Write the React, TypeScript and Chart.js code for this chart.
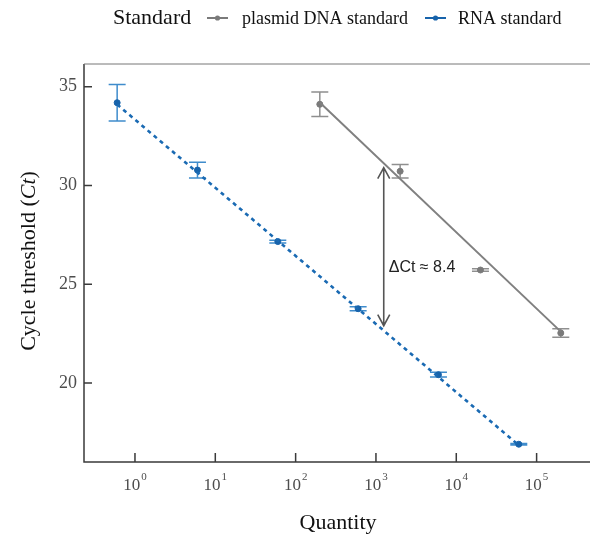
import { useEffect, useRef } from 'react';
import { Chart, registerables } from 'chart.js';

Chart.register(...registerables);

// ---- data ----
const rnaQty = [0.6, 6, 60, 600, 6000, 60000];
const rnaCt = [34.19, 30.78, 27.16, 23.76, 20.42, 16.9];
const rnaErr = [0.92, 0.4, 0.07, 0.1, 0.12, 0.04];

const dnaQty = [200, 2000, 20000, 200000];
const dnaCt = [34.11, 30.72, 25.72, 22.53];
const dnaErr = [0.62, 0.34, 0.06, 0.22];

const rnaFitQty = [0.6, 60000];
const rnaFitCt = [34.1, 16.85];
const dnaFitQty = [200, 200000];
const dnaFitCt = [34.2, 22.6];

const deltaQty = 1250;
const deltaTopCt = 30.9;
const deltaBottomCt = 22.9;
const deltaLabel = 'ΔCt ≈ 8.4';
const deltaLabelCt = 25.86;

const yTicks = [20, 25, 30, 35];
const xTickExps = [0, 1, 2, 3, 4, 5];
const xMin = 0.232;
const xMax = 462000;
const yMin = 16.0;
const yMax = 36.15;

const legendTitle = 'Standard';
const seriesNames = ['plasmid DNA standard', 'RNA standard'];
const xTitle = 'Quantity';

// ---- styles ----
const BLUE = '#1763ab';
const BLUE_ERR = '#3f8ccc';
const GRAY = '#7a7a7a';
const GRAY_ERR = '#8f8f8f';
const AXIS = '#3a3a3a';
const TICK_TXT = '#4d4d4d';
const SERIF = '"Liberation Serif", "Times New Roman", serif';
const SANS = '"Liberation Sans", Arial, sans-serif';

const toXY = (xs: number[], ys: number[]) => xs.map((x, i) => ({ x, y: ys[i] }));

const customPlugin = {
  id: 'customDraw',
  beforeDatasetsDraw(chart: any) {
    const { ctx, scales } = chart;
    const xs = scales.x;
    const ys = scales.y;
    const drawErr = (q: number[], c: number[], e: number[], color: string) => {
      ctx.save();
      ctx.strokeStyle = color;
      ctx.lineWidth = 1.5;
      q.forEach((qq, i) => {
        const px = xs.getPixelForValue(qq);
        const top = ys.getPixelForValue(c[i] + e[i]);
        const bot = ys.getPixelForValue(c[i] - e[i]);
        ctx.beginPath();
        ctx.moveTo(px, top);
        ctx.lineTo(px, bot);
        ctx.moveTo(px - 8.5, top);
        ctx.lineTo(px + 8.5, top);
        ctx.moveTo(px - 8.5, bot);
        ctx.lineTo(px + 8.5, bot);
        ctx.stroke();
      });
      ctx.restore();
    };
    drawErr(rnaQty, rnaCt, rnaErr, BLUE_ERR);
    drawErr(dnaQty, dnaCt, dnaErr, GRAY_ERR);
  },
  afterDraw(chart: any) {
    const { ctx, scales, chartArea } = chart;
    const xs = scales.x;
    const ys = scales.y;
    const L = chartArea.left;
    const R = chartArea.right;
    const T = chartArea.top;
    const B = chartArea.bottom;
    ctx.save();

    // axes lines
    ctx.strokeStyle = AXIS;
    ctx.lineWidth = 1.5;
    ctx.beginPath();
    ctx.moveTo(L, T);
    ctx.lineTo(L, B);
    ctx.lineTo(R, B);
    ctx.stroke();
    ctx.strokeStyle = '#777';
    ctx.lineWidth = 1;
    ctx.beginPath();
    ctx.moveTo(L, T);
    ctx.lineTo(R, T);
    ctx.stroke();

    // inward ticks
    ctx.strokeStyle = AXIS;
    ctx.lineWidth = 1.5;
    ctx.beginPath();
    yTicks.forEach((v) => {
      const py = ys.getPixelForValue(v);
      ctx.moveTo(L, py);
      ctx.lineTo(L + 8, py);
    });
    xTickExps.forEach((e) => {
      const px = xs.getPixelForValue(Math.pow(10, e));
      ctx.moveTo(px, B);
      ctx.lineTo(px, B - 9);
    });
    ctx.stroke();

    // y tick labels
    ctx.fillStyle = TICK_TXT;
    ctx.font = `18px ${SERIF}`;
    ctx.textAlign = 'right';
    ctx.textBaseline = 'middle';
    yTicks.forEach((v) => {
      ctx.fillText(String(v), L - 7, ys.getPixelForValue(v));
    });

    // x tick labels with superscripts
    ctx.textAlign = 'left';
    ctx.textBaseline = 'alphabetic';
    xTickExps.forEach((e) => {
      const px = xs.getPixelForValue(Math.pow(10, e));
      ctx.font = `17px ${SERIF}`;
      const w1 = ctx.measureText('10').width;
      ctx.font = `11px ${SERIF}`;
      const w2 = ctx.measureText(String(e)).width;
      const start = px - (w1 + w2 + 1) / 2;
      ctx.font = `17px ${SERIF}`;
      ctx.fillText('10', start, B + 28);
      ctx.font = `11px ${SERIF}`;
      ctx.fillText(String(e), start + w1 + 1, B + 18);
    });

    // axis titles
    ctx.fillStyle = '#111';
    ctx.font = `22px ${SERIF}`;
    ctx.textAlign = 'center';
    ctx.textBaseline = 'middle';
    ctx.fillText(xTitle, 338, 523);

    // y title with italic Ct
    ctx.save();
    ctx.translate(29, (T + B) / 2 - 2);
    ctx.rotate(-Math.PI / 2);
    const p1 = 'Cycle threshold (';
    const p2 = 'Ct';
    const p3 = ')';
    ctx.font = `22px ${SERIF}`;
    const w1 = ctx.measureText(p1).width;
    const w3 = ctx.measureText(p3).width;
    ctx.font = `italic 22px ${SERIF}`;
    const w2 = ctx.measureText(p2).width;
    let cx = -(w1 + w2 + w3) / 2;
    ctx.textAlign = 'left';
    ctx.font = `22px ${SERIF}`;
    ctx.fillText(p1, cx, 0);
    cx += w1;
    ctx.font = `italic 22px ${SERIF}`;
    ctx.fillText(p2, cx, 0);
    cx += w2;
    ctx.font = `22px ${SERIF}`;
    ctx.fillText(p3, cx, 0);
    ctx.restore();

    // delta arrow
    const ax = xs.getPixelForValue(deltaQty);
    const at = ys.getPixelForValue(deltaTopCt);
    const ab = ys.getPixelForValue(deltaBottomCt);
    ctx.strokeStyle = '#555';
    ctx.lineWidth = 1.6;
    ctx.beginPath();
    ctx.moveTo(ax, at);
    ctx.lineTo(ax, ab);
    ctx.moveTo(ax - 6, at + 11);
    ctx.lineTo(ax, at);
    ctx.lineTo(ax + 6, at + 11);
    ctx.moveTo(ax - 6, ab - 11);
    ctx.lineTo(ax, ab);
    ctx.lineTo(ax + 6, ab - 11);
    ctx.stroke();
    ctx.fillStyle = '#222';
    ctx.font = `16px ${SANS}`;
    ctx.textAlign = 'left';
    ctx.textBaseline = 'middle';
    ctx.fillText(deltaLabel, ax + 5, ys.getPixelForValue(deltaLabelCt));

    // legend
    ctx.fillStyle = '#111';
    ctx.font = `22px ${SERIF}`;
    ctx.textAlign = 'left';
    ctx.textBaseline = 'middle';
    const ly = 18;
    ctx.fillText(legendTitle, 113, ly);
    const items = [
      { x: 207, tx: 242, color: GRAY, name: seriesNames[0] },
      { x: 425, tx: 458, color: BLUE, name: seriesNames[1] },
    ];
    items.forEach((it) => {
      ctx.strokeStyle = it.color;
      ctx.lineWidth = 2;
      ctx.beginPath();
      ctx.moveTo(it.x, ly);
      ctx.lineTo(it.x + 21, ly);
      ctx.stroke();
      ctx.fillStyle = it.color;
      ctx.beginPath();
      ctx.arc(it.x + 10.5, ly, 2.6, 0, Math.PI * 2);
      ctx.fill();
      ctx.fillStyle = '#111';
      ctx.font = `18px ${SERIF}`;
      ctx.fillText(it.name, it.tx, ly + 1);
    });

    ctx.restore();
  },
};

export default function App() {
  const ref = useRef<HTMLCanvasElement>(null);
  useEffect(() => {
    if (!ref.current) return;
    const chart = new Chart(ref.current, {
      type: 'scatter',
      data: {
        datasets: [
          {
            label: 'dna-fit',
            data: toXY(dnaFitQty, dnaFitCt),
            showLine: true,
            borderColor: '#808080',
            borderWidth: 2,
            pointRadius: 0,
          },
          {
            label: 'rna-fit',
            data: toXY(rnaFitQty, rnaFitCt),
            showLine: true,
            borderColor: '#1a6ab3',
            borderWidth: 2.6,
            borderDash: [4, 4],
            pointRadius: 0,
          },
          {
            label: seriesNames[0],
            data: toXY(dnaQty, dnaCt),
            backgroundColor: GRAY,
            borderColor: GRAY,
            pointRadius: 3,
          },
          {
            label: seriesNames[1],
            data: toXY(rnaQty, rnaCt),
            backgroundColor: BLUE,
            borderColor: BLUE,
            pointRadius: 3,
          },
        ],
      },
      options: {
        responsive: false,
        animation: false,
        devicePixelRatio: 1,
        layout: { autoPadding: false, padding: { top: 64, left: 0, right: 0, bottom: 0 } },
        plugins: {
          legend: { display: false },
          tooltip: { enabled: false },
          title: { display: false },
        },
        scales: {
          x: {
            type: 'logarithmic',
            min: xMin,
            max: xMax,
            grid: { display: false },
            border: { display: false },
            ticks: { display: false },
            afterFit: (s: any) => {
              s.height = 75;
            },
          },
          y: {
            type: 'linear',
            min: yMin,
            max: yMax,
            grid: { display: false },
            border: { display: false },
            ticks: { display: false },
            afterFit: (s: any) => {
              s.width = 84;
            },
          },
        },
      } as any,
      plugins: [customPlugin],
    });
    return () => chart.destroy();
  }, []);
  return (
    <div style={{ position: 'absolute', left: 0, top: 0, width: 590, height: 537, background: '#fff' }}>
      <canvas ref={ref} width={590} height={537} style={{ display: 'block' }} />
    </div>
  );
}
